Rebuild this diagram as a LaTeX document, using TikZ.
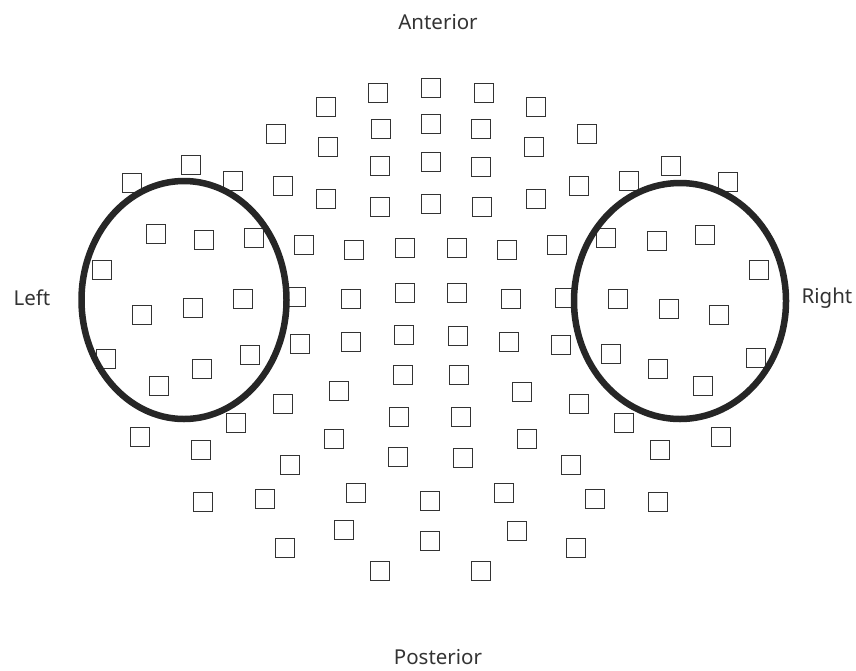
\documentclass[tikz,border=0pt]{standalone}
\usepackage{fontspec}
\setmainfont{Noto Sans}
\usepackage{tikz}
\usetikzlibrary{positioning}
\usepackage{xcolor}

\definecolor{inkgray}{HTML}{333333}
\definecolor{ringgray}{HTML}{262626}

\tikzset{
  chan/.style={draw=inkgray, line width=1.3pt, minimum size=19.5pt, inner sep=0pt},
  roi/.style={draw=ringgray, line width=6.5pt},
  dirlabel/.style={text=inkgray, font=\fontsize{20.5}{24}\selectfont}
}

\begin{document}
\begin{tikzpicture}[x=1pt,y=-1pt]
    \useasboundingbox (0,0) rectangle (856,670);

    % Direction labels
    \node[dirlabel] (ant) at (438,22) {Anterior};
    \node[dirlabel, anchor=base, inner sep=0pt] (post) at (438,664) {Posterior};
    \node[dirlabel] (lft) at (32,298) {Left};
    \node[dirlabel] (rgt) at (827,298) {Right};

    % Channels (frontal part)
    \foreach \x/\y [count=\i] in {431/88, 378/93, 484/93, 326/107, 536/107,
        431/124, 381/129, 481/129, 276/134, 587/134, 328/147, 534/147,
        431/162, 380/166, 481/167, 283/186, 579/186, 132/183, 191/165,
        233/181, 629/181, 671/166, 728/182, 326/199, 536/199, 380/207,
        431/204, 482/207}
        \node[chan] (f\i) at (\x,\y) {};

    % Channels (central part)
    \foreach \x/\y [count=\i] in {156/234, 204/240, 254/238, 304/245,
        354/250, 405/248, 457/248, 507/250, 557/245, 606/238, 657/241,
        705/235, 102/270, 759/270, 142/315, 193/308, 243/299, 296/297,
        351/299, 405/293, 457/293, 511/299, 565/298, 618/299, 669/309,
        719/315, 300/344, 351/342, 404/335, 458/336, 509/342, 561/345,
        250/355, 202/369, 159/386, 106/359, 611/354, 658/369, 703/386,
        756/358}
        \node[chan] (c\i) at (\x,\y) {};

    % Channels (posterior part)
    \foreach \x/\y [count=\i] in {403/375, 459/375, 339/391, 522/392,
        283/404, 579/404, 236/423, 624/423, 140/437, 721/437, 201/450,
        660/450, 399/417, 461/417, 334/439, 527/439, 290/465, 571/465,
        398/457, 463/458, 356/493, 504/493, 265/499, 595/499, 203/502,
        658/502, 430/501, 344/530, 517/531, 285/548, 576/548, 430/541,
        380/571, 481/571}
        \node[chan] (p\i) at (\x,\y) {};

    % Regions of interest
    \draw[roi] (184,300) ellipse [x radius=102.5, y radius=119];
    \draw[roi] (680,301) ellipse [x radius=106, y radius=118];
\end{tikzpicture}
\end{document}
